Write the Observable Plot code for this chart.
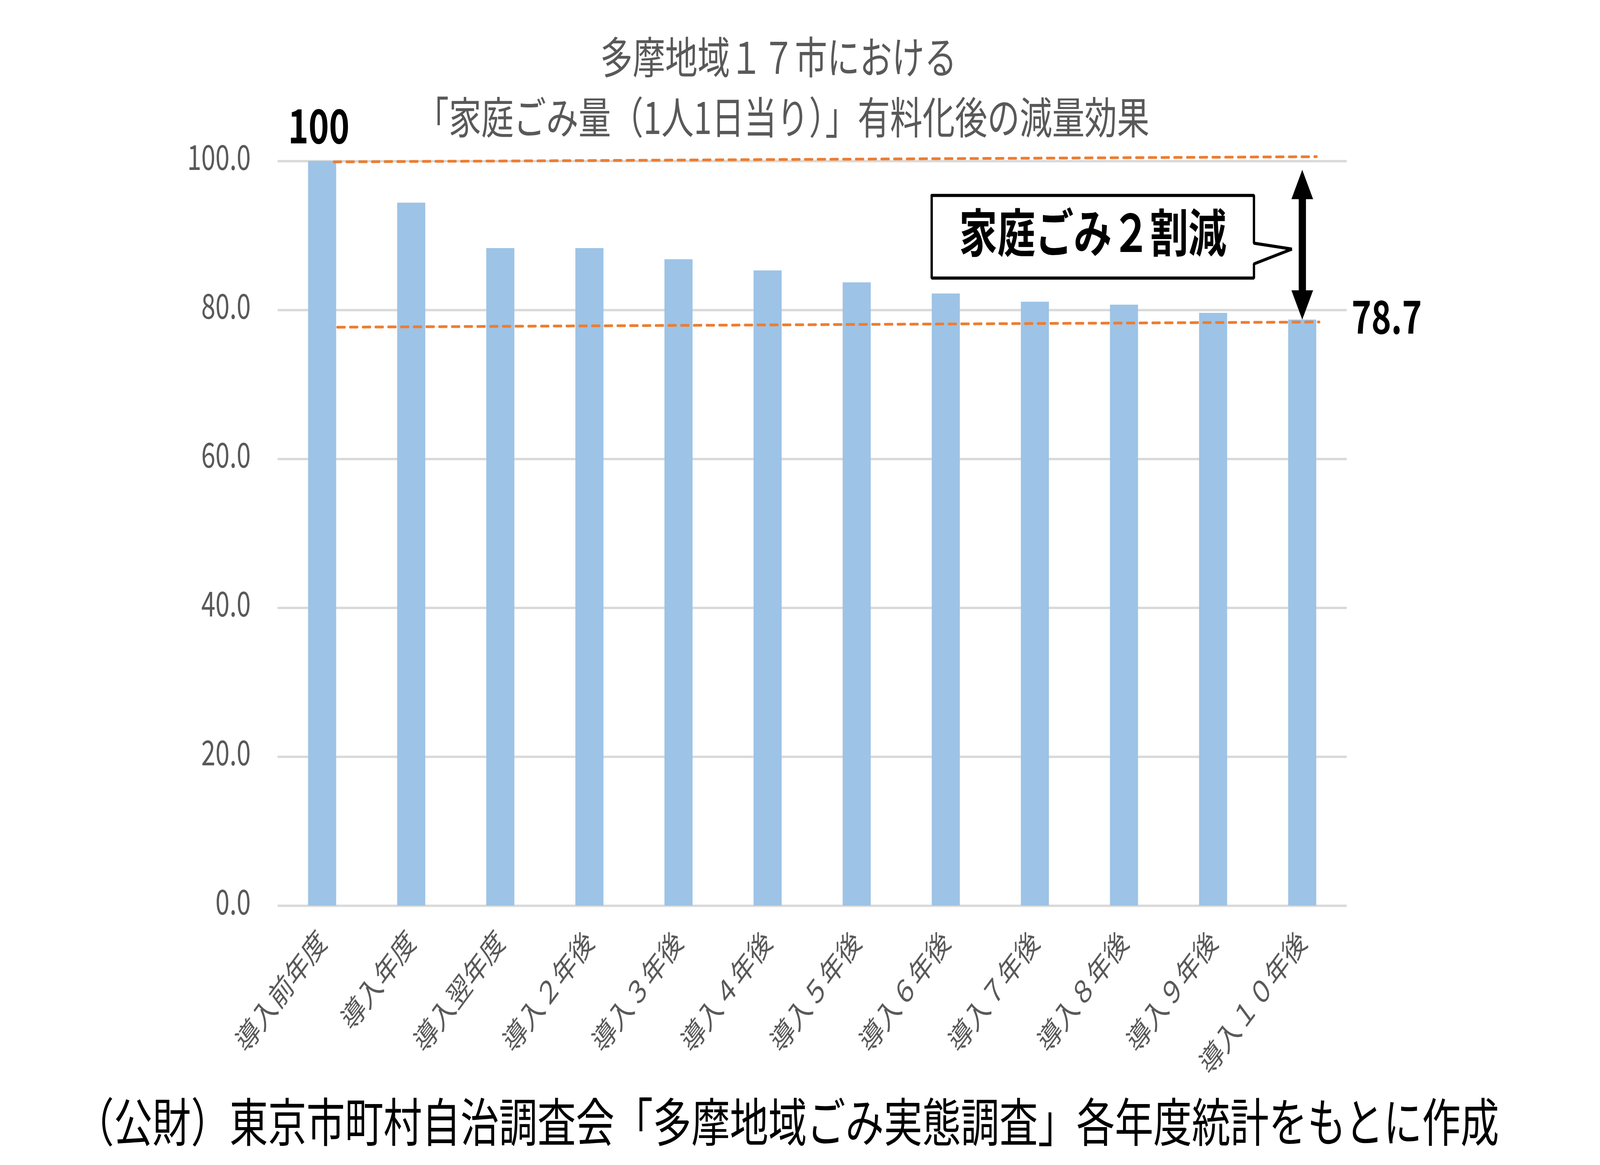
<!DOCTYPE html>
<html><head><meta charset="utf-8">
<script src="https://cdn.jsdelivr.net/npm/d3@7"></script>
<script src="https://cdn.jsdelivr.net/npm/@observablehq/plot@0.6"></script>
<style>
html,body{margin:0;padding:0;background:#fff;overflow:hidden;}
#outer{position:relative;overflow:hidden;background:#fff;}
#wrap{position:absolute;left:0;top:0;width:5528px;height:2982px;overflow:hidden;background:#fff;transform-origin:0 0;font-family:'Noto Sans CJK JP','Noto Sans',sans-serif;}
#chart{position:absolute;left:0;top:0;width:5528px;height:2982px;}
.t{position:absolute;left:0;text-align:center;white-space:nowrap;}
#t1{top:84px;width:5380px;font-size:112px;line-height:112px;color:#595959;}
#t2{top:238px;width:5410px;font-size:112px;line-height:112px;color:#595959;}
#cap{top:2798px;width:5440px;font-size:133px;line-height:133px;color:#000;}
</style>
</head><body>
<div id="outer">
<div id="wrap">
  <div id="chart"></div>
  <div class="t" id="t1">多摩地域１７市における</div>
  <div class="t" id="t2">「家庭ごみ量（1人1日当り）」有料化後の減量効果</div>
  <div class="t" id="cap">（公財）東京市町村自治調査会「多摩地域ごみ実態調査」各年度統計をもとに作成</div>
</div>
</div>
<script>
// ---- data ----
const categories = ["導入前年度","導入年度","導入翌年度","導入２年後","導入３年後","導入４年後","導入５年後","導入６年後","導入７年後","導入８年後","導入９年後","導入１０年後"];
const values = [100.0, 94.4, 88.3, 88.3, 86.8, 85.3, 83.7, 82.2, 81.1, 80.7, 79.6, 78.7];
const yTicks = [0, 20, 40, 60, 80, 100];
// hand-drawn reference lines (x in category index units, y in data units)
const refLineTop = [{x: 0.13, y: 99.9}, {x: 11.16, y: 100.6}];
const refLineBottom = [{x: 0.17, y: 77.7}, {x: 11.19, y: 78.4}];
// callout box outline (index units / data units)
const calloutShape = [
  {x: 6.84, y: 95.4}, {x: 10.457, y: 95.4}, {x: 10.457, y: 88.98}, {x: 10.883, y: 88.19},
  {x: 10.457, y: 86.2}, {x: 10.457, y: 84.3}, {x: 6.84, y: 84.3}, {x: 6.84, y: 95.4}
];
const calloutText = [{x: 8.648, y: 90.0, label: "家庭ごみ２割減"}];
// double arrow between 100 and 78.7
const arrowShaft = [{x: 11, y1: 95.2, y2: 82.4}];
const arrowHeads = [
  {id: "top", x: 11, y: 98.8}, {id: "top", x: 10.88, y: 94.92}, {id: "top", x: 11.12, y: 94.92},
  {id: "bot", x: 11, y: 78.75}, {id: "bot", x: 10.88, y: 82.63}, {id: "bot", x: 11.12, y: 82.63}
];

const data = categories.map((c, i) => ({i, category: c, value: values[i]}));
const barHalf = 0.1576;

// map the 5528x2982 design onto the actual CSS viewport
const vw = window.innerWidth || 5528, vh = window.innerHeight || 2982;
const kx = vw / 5528, ky = vh / 2982;
const outer = document.getElementById("outer");
outer.style.width = vw + "px";
outer.style.height = vh + "px";
document.getElementById("wrap").style.transform = `scale(${kx}, ${ky})`;

const plot = Plot.plot({
  width: 5528,
  height: 2982,
  marginLeft: 959,
  marginRight: 875,
  marginTop: 412,
  marginBottom: 664,
  style: {fontFamily: "'Noto Sans CJK JP','Noto Sans',sans-serif", fontSize: "88px", background: "transparent", overflow: "visible", maxWidth: "none"},
  x: {type: "linear", domain: [-0.5, 11.5]},
  y: {domain: [0, 100]},
  marks: [
    Plot.gridY(yTicks, {stroke: "#d9d9d9", strokeOpacity: 1, strokeWidth: 6}),
    Plot.axisY(yTicks, {tickSize: 0, tickPadding: 93, tickFormat: d => d.toFixed(1), fontSize: 88, color: "#595959", dy: -6}),
    Plot.axisX(d3.range(categories.length), {tickSize: 0, tickPadding: 80, tickRotate: -45, tickFormat: i => categories[i], fontSize: 80, color: "#595959", dx: 2}),
    Plot.rectY(data, {x1: d => d.i - barHalf, x2: d => d.i + barHalf, y: "value", fill: "#9DC3E6"}),
    Plot.line(refLineTop, {x: "x", y: "y", stroke: "#ED7D31", strokeWidth: 7, strokeDasharray: "25,19"}),
    Plot.line(refLineBottom, {x: "x", y: "y", stroke: "#ED7D31", strokeWidth: 7, strokeDasharray: "25,19"}),
    Plot.text([data[0]], {x: "i", y: "value", text: d => d3.format("d")(d.value), fontSize: 120, fontWeight: "bold", fill: "#000", lineAnchor: "bottom", dy: -46, dx: -12}),
    Plot.text([data[data.length - 1]], {x: "i", y: "value", text: d => d3.format(".1f")(d.value), fontSize: 116, fontWeight: "bold", fill: "#000", lineAnchor: "bottom", textAnchor: "start", dy: 36, dx: 170}),
    Plot.line(calloutShape, {x: "x", y: "y", fill: "white", stroke: "#000", strokeWidth: 8, strokeLinejoin: "miter"}),
    Plot.text(calloutText, {x: "x", y: "y", text: "label", fontSize: 132, fontWeight: "bold", fill: "#000"}),
    Plot.link(arrowShaft, {x1: "x", x2: "x", y1: "y1", y2: "y2", stroke: "#000", strokeWidth: 25}),
    Plot.line(arrowHeads, {x: "x", y: "y", z: "id", fill: "#000", stroke: "#000", strokeWidth: 1})
  ]
});
document.getElementById("chart").appendChild(plot);
</script>
</body></html>
